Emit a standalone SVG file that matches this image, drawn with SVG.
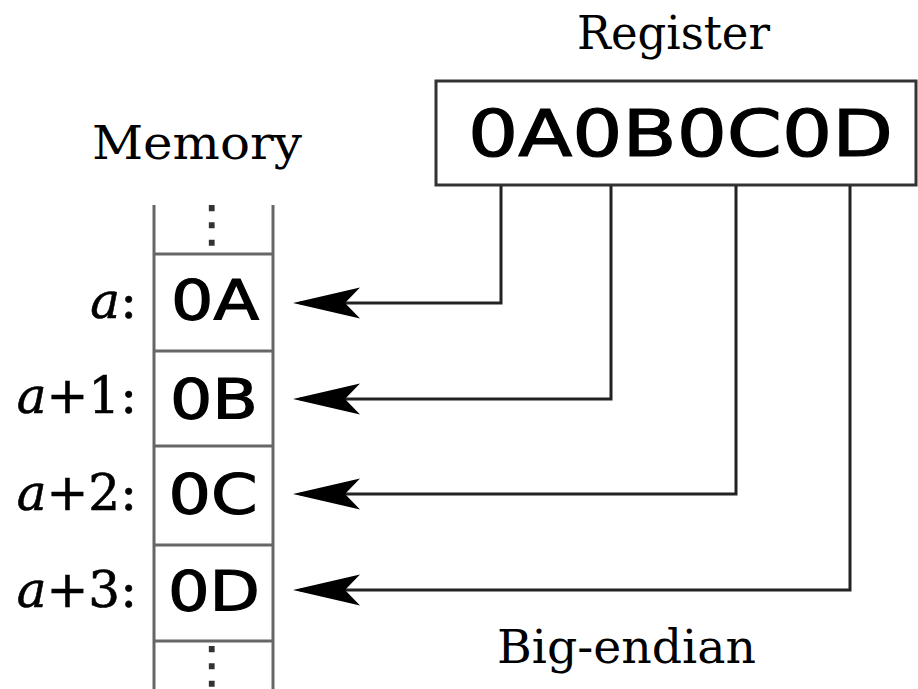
<svg xmlns="http://www.w3.org/2000/svg" width="918" height="689" viewBox="0 0 918 689">
<style>
.title{font-family:"DejaVu Serif","Liberation Serif",serif;font-size:46px;fill:#000}
.lbl{font-family:"DejaVu Serif","Liberation Serif",serif;font-size:50px;fill:#000;text-anchor:end;stroke:#000;stroke-width:0.6}
.hex{font-family:"DejaVu Sans","Liberation Sans",sans-serif;font-size:55px;fill:#000;text-anchor:middle;stroke:#000;stroke-width:1.2}
.reg{font-family:"DejaVu Sans","Liberation Sans",sans-serif;font-size:64px;fill:#000;stroke:#000;stroke-width:1.2}
.dots{font-family:"DejaVu Sans",sans-serif;font-size:40px;fill:#333;text-anchor:middle}
.col{stroke:#666;stroke-width:3;fill:none}
.conn{stroke:#222;stroke-width:3;fill:none;marker-end:url(#ah)}
</style>
<defs>
<marker id="ah" markerUnits="userSpaceOnUse" viewBox="-70 -18 72 36" markerWidth="72" markerHeight="36" refX="-7" refY="0" orient="auto">
<path d="M0,0 L-67,-15.5 L-52,0 L-67,15.5 Z" fill="#000"/>
</marker>
</defs>
<rect width="918" height="689" fill="#fff"/>
<text class="title" x="577" y="49" textLength="193" lengthAdjust="spacingAndGlyphs">Register</text>
<text class="title" x="92" y="159" textLength="210" lengthAdjust="spacingAndGlyphs">Memory</text>
<text class="title" x="497" y="663" textLength="259" lengthAdjust="spacingAndGlyphs">Big-endian</text>
<g id="register">
<rect x="436" y="81" width="480" height="104" fill="#fff" stroke="#333" stroke-width="3"/>
<text class="reg" x="468" y="156" textLength="425" lengthAdjust="spacingAndGlyphs">0A0B0C0D</text>
</g>
<g id="memory">
<line class="col" x1="154" y1="205" x2="154" y2="689"/>
<line class="col" x1="273" y1="205" x2="273" y2="689"/>
<line class="col" x1="154" y1="254" x2="273" y2="254"/>
<line class="col" x1="154" y1="351" x2="273" y2="351"/>
<line class="col" x1="154" y1="446" x2="273" y2="446"/>
<line class="col" x1="154" y1="545" x2="273" y2="545"/>
<line class="col" x1="154" y1="641" x2="273" y2="641"/>
<text class="dots" transform="translate(212,241) scale(1.4,1.25)">⋮</text>
<text class="dots" transform="translate(212,682) scale(1.4,1.25)">⋮</text>
</g>
<g id="cell-a">
<text class="lbl" x="137" y="318"><tspan font-style="italic">a</tspan>:</text>
<text class="hex" x="215" y="319" textLength="88" lengthAdjust="spacingAndGlyphs">0A</text>
</g>
<g id="cell-a1">
<text class="lbl" x="137" y="413"><tspan font-style="italic">a</tspan>+1:</text>
<text class="hex" x="214" y="418" textLength="88" lengthAdjust="spacingAndGlyphs">0B</text>
</g>
<g id="cell-a2">
<text class="lbl" x="137" y="510"><tspan font-style="italic">a</tspan>+2:</text>
<text class="hex" x="213" y="513" textLength="89" lengthAdjust="spacingAndGlyphs">0C</text>
</g>
<g id="cell-a3">
<text class="lbl" x="137" y="607"><tspan font-style="italic">a</tspan>+3:</text>
<text class="hex" x="214" y="610" textLength="92" lengthAdjust="spacingAndGlyphs">0D</text>
</g>
<g id="connectors">
<path class="conn" d="M501,186 V303 H300"/>
<path class="conn" d="M611,186 V399 H300"/>
<path class="conn" d="M736,186 V494 H300"/>
<path class="conn" d="M850,186 V590 H300"/>
</g>
</svg>
